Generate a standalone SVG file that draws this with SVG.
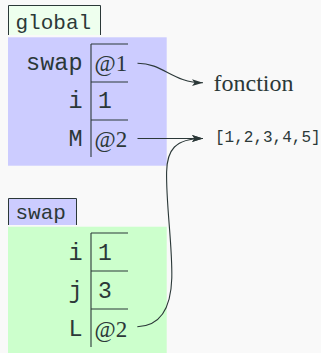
<svg xmlns="http://www.w3.org/2000/svg" width="321" height="353" viewBox="0 0 321 353">
  <style>
    .rule { stroke: #2b3838; stroke-width: 1.1; fill: none; }
    .tab { stroke: #2b3838; stroke-width: 1; }
    .mono { font-family: "Liberation Mono", "DejaVu Sans Mono", monospace; fill: #2b3838; }
    .serif { font-family: "Liberation Serif", "DejaVu Serif", serif; fill: #2b3838; }
    .name { font-size: 23.5px; text-anchor: end; }
    .val { font-size: 23px; }
    .ref { font-size: 23px; }
    .tag { font-size: 21px; }
    .link { stroke: #2b3838; stroke-width: 1.1; fill: none; marker-end: url(#head); }
  </style>
  <defs>
    <marker id="head" viewBox="0 0 12 8" refX="11" refY="4" markerWidth="12" markerHeight="8" markerUnits="userSpaceOnUse" orient="auto">
      <path d="M0,0.6 L11,4 L0,7.4 L2.5,4 Z" fill="#2b3838"/>
    </marker>
  </defs>

  <rect width="321" height="353" fill="#f9f9f9"/>

  <!-- global frame -->
  <g id="frame-global">
    <path d="M8.5,35 V5.5 H100.5 V35" class="tab" fill="#eeffee"/>
    <text x="15.5" y="29" class="mono tag">global</text>
    <rect x="8" y="37.3" width="158.7" height="128.4" fill="#ccccff"/>
    <line x1="91" y1="44" x2="91" y2="157" class="rule"/>
    <line x1="91" y1="44" x2="128" y2="44" class="rule"/>
    <line x1="91" y1="82" x2="128" y2="82" class="rule"/>
    <line x1="91" y1="120" x2="128" y2="120" class="rule"/>
    <text x="82.5" y="70" class="mono name">swap</text>
    <text x="94.5" y="70.5" class="serif ref">@1</text>
    <text x="82.5" y="108" class="mono name">i</text>
    <text x="98" y="108" class="mono val">1</text>
    <text x="82.5" y="146" class="mono name">M</text>
    <text x="94.5" y="146.5" class="serif ref">@2</text>
  </g>

  <!-- swap frame -->
  <g id="frame-swap">
    <path d="M8.5,225 V198.5 H76.5 V225" class="tab" fill="#ccccff"/>
    <text x="15.5" y="218.5" class="mono tag">swap</text>
    <rect x="8" y="226.7" width="158.7" height="126.3" fill="#ccffcc"/>
    <line x1="91" y1="233" x2="91" y2="347" class="rule"/>
    <line x1="91" y1="233" x2="128" y2="233" class="rule"/>
    <line x1="91" y1="271" x2="128" y2="271" class="rule"/>
    <line x1="91" y1="309" x2="128" y2="309" class="rule"/>
    <text x="82.5" y="260" class="mono name">i</text>
    <text x="98" y="260" class="mono val">1</text>
    <text x="82.5" y="298" class="mono name">j</text>
    <text x="98" y="298" class="mono val">3</text>
    <text x="82.5" y="336" class="mono name">L</text>
    <text x="94.5" y="336.5" class="serif ref">@2</text>
  </g>

  <!-- heap objects -->
  <g id="obj-fonction">
    <text x="213.5" y="90.7" class="serif" font-size="24">fonction</text>
  </g>
  <g id="obj-list">
    <text x="215" y="142" class="mono" font-size="16">[1,2,3,4,5]</text>
  </g>

  <!-- references -->
  <g id="connectors">
    <path d="M137.5,63.3 C164,63.3 172,82.7 203,82.7" class="link"/>
    <path d="M137.5,138.5 H203" class="link"/>
    <path d="M137.3,326.7 C162,326 171,306 171.8,278 C172.5,245 166,205 166.6,172 C167,150 175,138.5 203,138.5" class="link"/>
  </g>
</svg>
